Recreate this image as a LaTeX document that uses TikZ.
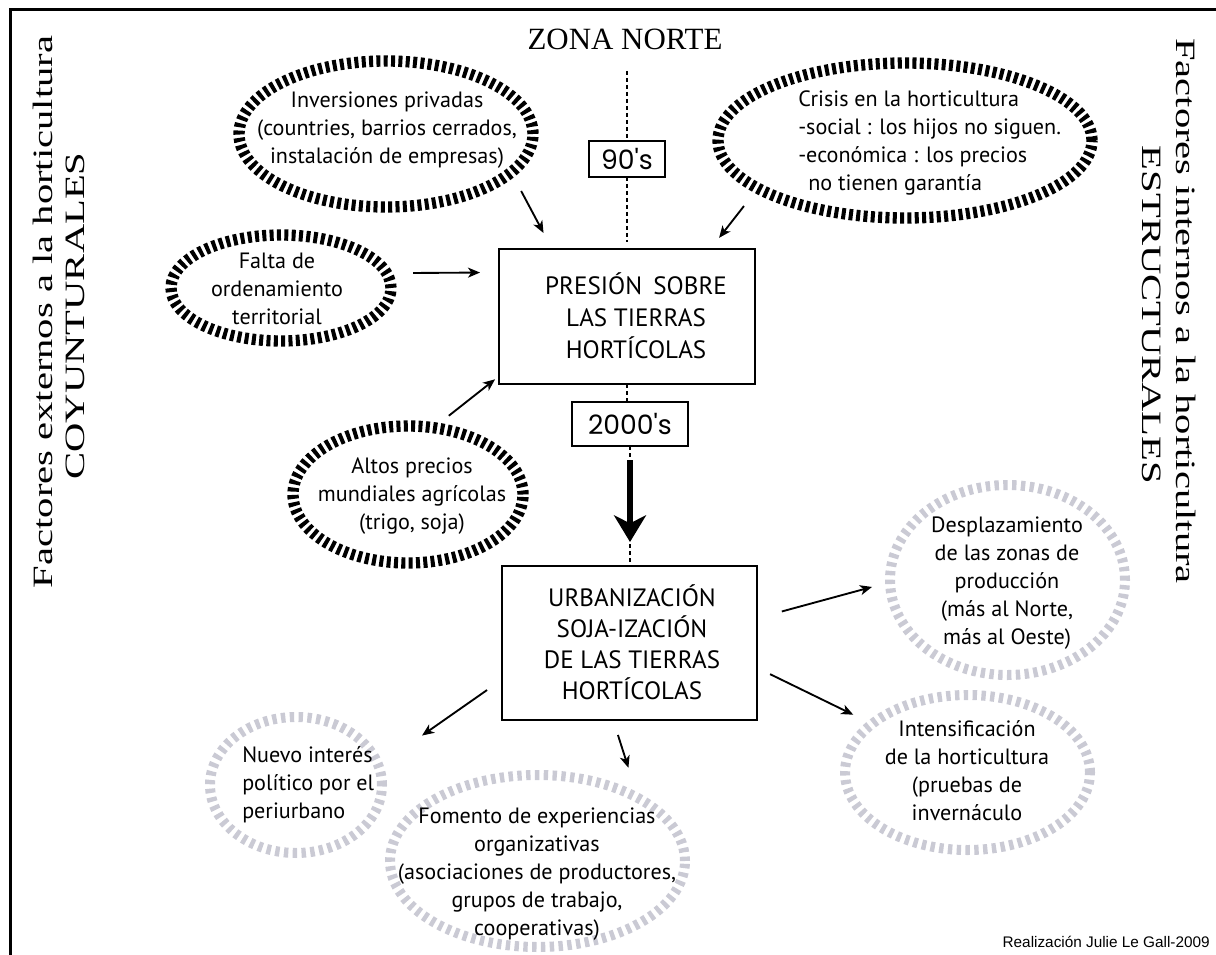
\documentclass[tikz,border=0pt]{standalone}
\usepackage{fontspec}
\setmainfont{PT Sans}
\newfontfamily\sidefont[FakeStretch=1.45]{Liberation Serif}
\newfontfamily\titlefont{Liberation Serif}
\newfontfamily\geofont{Poppins}
\newfontfamily\creditfont{Liberation Sans}
\usetikzlibrary{shapes.geometric,arrows.meta}
\definecolor{ggray}{RGB}{202,202,212}
\begin{document}
\begin{tikzpicture}[x=0.75pt,y=-0.75pt,
  blackell/.style={ellipse, draw=black, line width=8.5pt, dash pattern=on 3pt off 2.5pt, outer sep=0pt, inner sep=0pt},
  grayell/.style={ellipse, draw=ggray, line width=7.5pt, dash pattern=on 3.3pt off 3.3pt, outer sep=0pt, inner sep=0pt},
  etext/.style={align=center, inner sep=0pt, font=\fontsize{16.6}{21}\selectfont},
  ltext/.style={align=left, anchor=west, inner sep=0pt, font=\fontsize{16.6}{21}\selectfont},
  boxnode/.style={draw=black, line width=1.5pt, outer sep=0pt, inner sep=0pt},
  btext/.style={align=center, inner sep=0pt, font=\fontsize{18.8}{24}\selectfont},
  yeartext/.style={inner sep=0pt, font=\geofont\fontsize{20}{20}\selectfont},
  sidetext/.style={inner sep=0pt, font=\sidefont\fontsize{21}{21}\selectfont},
  arr/.style={-{Stealth[length=9pt,width=7.5pt,inset=2.5pt]}, line width=1.4pt},
  bigarr/.style={-{Stealth[length=20pt,width=24pt,inset=6pt]}, line width=4.5pt},
  dline/.style={line width=1.5pt, dash pattern=on 3pt off 2.25pt}
]
\useasboundingbox (0,0) rectangle (1216,955);
% frame
\draw[line width=1.9pt] (10.5,956) -- (10.5,9.5) -- (1217,9.5);

% side texts
\node[sidetext, rotate=90] (left1) at (43,312) {Factores externos a la horticultura};
\node[sidetext, rotate=90] (left2) at (75,316) {COYUNTURALES};
\node[sidetext, rotate=-90] (right1) at (1186,311) {Factores internos a la horticultura};
\node[sidetext, rotate=-90] (right2) at (1152,315) {ESTRUCTURALES};

% title
\node[anchor=base, inner sep=0pt, font=\titlefont\fontsize{23.2}{23.2}\selectfont] (zona) at (625,49.5) {ZONA NORTE};
\node[anchor=base east, inner sep=0pt, font=\creditfont\fontsize{11.5}{11.5}\selectfont] (credit) at (1210,947) {Realización Julie Le Gall-2009};

% boxes
\node[boxnode, minimum width=192pt, minimum height=101.25pt] (p1) at (627,316.5) {};
\node[btext] (p1t) at (636,315.5) {PRESIÓN\hspace{0.45em}SOBRE\\LAS TIERRAS\\HORTÍCOLAS};
\node[boxnode, minimum width=191.25pt, minimum height=115.5pt] (p2) at (629.5,643) {};
\node[btext, font=\fontsize{18.8}{23.25}\selectfont] (p2t) at (632,642) {URBANIZACIÓN\\SOJA-IZACIÓN\\DE LAS TIERRAS\\HORTÍCOLAS};
\node[boxnode, minimum width=57pt, minimum height=27pt] (t90) at (627,159) {};
\node[yeartext] (t90t) at (t90) {90's};
\node[boxnode, minimum width=87pt, minimum height=33pt] (t2000) at (630,424) {};
\node[yeartext] (t2000t) at (t2000) {2000's};

% black ellipses
\node[blackell, minimum width=220.5pt, minimum height=109.5pt] (e1) at (386,134) {};
\node[etext] (e1t) at (387,130) {Inversiones privadas\\(countries, barrios cerrados,\\instalación de empresas)};
\node[blackell, minimum width=280.5pt, minimum height=116.25pt] (e2) at (905,140.5) {};
\node[ltext] (e2t) at (798,143) {Crisis en la horticultura\\-social : los hijos no siguen.\\-económica : los precios\\\hspace*{7.5pt}no tienen garantía};
\node[blackell, minimum width=165pt, minimum height=79.5pt] (e3) at (281,288) {};
\node[etext] (e3t) at (277,289) {Falta de\\ordenamiento\\territorial};
\node[blackell, minimum width=172.5pt, minimum height=102.75pt] (e4) at (408,494.5) {};
\node[etext] (e4t) at (412,496) {Altos precios\\mundiales agrícolas\\(trigo, soja)};

% gray ellipses
\node[grayell, minimum width=176.25pt, minimum height=142.5pt] (g1) at (1007.5,580) {};
\node[etext] (g1t) at (1007,583) {Desplazamiento\\de las zonas de\\producción\\(más al Norte,\\más al Oeste)};
\node[grayell, minimum width=183.75pt, minimum height=116.25pt] (g2) at (967.5,772.5) {};
\node[etext] (g2t) at (967,771) {Intensificación\\de la horticultura\\(pruebas de\\invernáculo};
\node[grayell, minimum width=129pt, minimum height=102pt] (g3) at (296,785) {};
\node[ltext] (g3t) at (242,785) {Nuevo interés\\político por el\\periurbano};
\node[grayell, minimum width=221.25pt, minimum height=129pt] (g4) at (537.5,861) {};
\node[etext] (g4t) at (537,874) {Fomento de experiencias\\organizativas\\(asociaciones de productores,\\grupos de trabajo,\\cooperativas)};

% dotted timeline
\coordinate (ztop) at (627,71);
\draw[dline] (ztop) -- (t90.north);
\draw[dline, shorten >=5pt] (t90.south) -- (t90.south |- p1.north);
\draw[dline] (p1.south) -- (p1.south |- t2000.north);
\draw[dline] (t2000.south) -- (t2000.south |- p2.north);
\draw[bigarr, shorten <=10.5pt, shorten >=18pt] (t2000.south) -- (t2000.south |- p2.north);

% arrows
\draw[arr, shorten <=15.9pt, shorten >=13.6pt] (e1.-17.6) -- (p1.138.5);
\draw[arr, shorten <=16.9pt, shorten >=10.6pt] (e2.198.1) -- (p1.39.4);
\draw[arr, shorten <=19.9pt, shorten >=14.25pt] (e3.8.1) -- (p1.161.2);
\draw[arr, shorten <=14.5pt, shorten >=3.75pt] (e4.69.9) -- (p1.205.7);
\draw[arr, shorten <=19.3pt, shorten >=14pt] (p2.11.9) -- (g1.181.8);
\draw[arr, shorten <=10.9pt, shorten >=15.7pt] (p2.-11.4) -- (g2.153.2);
\draw[arr, shorten <=13.7pt, shorten >=39.8pt] (p2.196) -- (g3.13.5);
\draw[arr, shorten <=11.8pt, shorten >=23.9pt] (p2.-102.6) -- (g4.32.7);
\end{tikzpicture}
\end{document}
